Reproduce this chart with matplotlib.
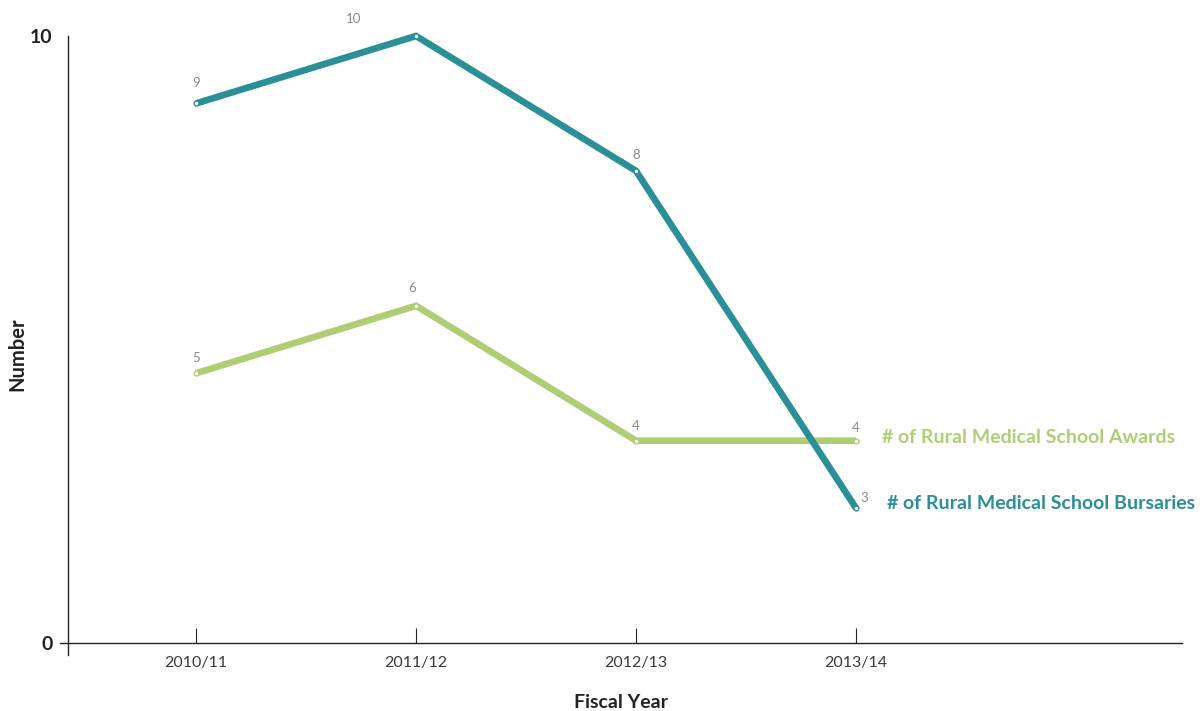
import matplotlib
matplotlib.use("Agg")
import matplotlib.pyplot as plt
from matplotlib.lines import Line2D

plt.rcParams['font.family'] = ['Lato', 'DejaVu Sans']

years = ["2010/11", "2011/12", "2012/13", "2013/14"]
bursaries = [9, 10, 8, 3]
awards = [5, 6, 4, 4]
series_names = ["# of Rural Medical School Bursaries", "# of Rural Medical School Awards"]
y_ticks = [1, 10]
y_tick_labels = ["0", "10"]

teal = "#2A8F96"
green = "#AFCE74"

fig = plt.figure(figsize=(12.02, 7.11), dpi=100)
ax = fig.add_axes([68/1202, 1-643/711, (1182-68)/1202, (643-36)/711])

x = list(range(len(years)))
for vals, col in [(awards, green), (bursaries, teal)]:
    ax.plot(x, vals, color=col, lw=4.8, solid_capstyle='butt', solid_joinstyle='miter', zorder=3,
            marker='o', ms=3.5, mfc='white', mec=col, mew=1.0, clip_on=False)

# data labels (offsets in points)
lab_off_b = [(0, 14.4), (-45, 12.2), (0, 11.5), (6, 7.5)]
lab_off_a = [(0, 11), (-3, 12.5), (0, 10.5), (0, 9)]
for vals, offs in [(bursaries, lab_off_b), (awards, lab_off_a)]:
    for xi, v, (dx, dy) in zip(x, vals, offs):
        ax.annotate(str(v), (xi, v), xytext=(dx, dy), textcoords='offset points',
                    ha='center', va='center', fontsize=9.5, color='#8a8a8a')

# series labels
ax.annotate(series_names[1], (3, 4), xytext=(18.5, 2), textcoords='offset points',
            ha='left', va='center', fontsize=14, fontweight='bold', color=green)
ax.annotate(series_names[0], (3, 3), xytext=(22, 3.5), textcoords='offset points',
            ha='left', va='center', fontsize=14, fontweight='bold', color=teal)

ax.set_xlim((68-196)/220, (1182-196)/220)
ax.set_ylim(1, 10)

for s in ['top', 'right', 'left', 'bottom']:
    ax.spines[s].set_visible(False)
# axis lines
ax.add_line(Line2D([0, 0], [-12/607, 1], transform=ax.transAxes, color='#222222', lw=1.0, clip_on=False))
ax.add_line(Line2D([-8/1114, 1], [0, 0], transform=ax.transAxes, color='#222222', lw=1.0, clip_on=False))

ax.set_xticks(x)
ax.set_xticklabels(years, fontsize=11.5, color='#3a3a3a')
ax.tick_params(axis='x', direction='in', length=11, width=0.8, color='#222222', pad=9)
ax.set_yticks(y_ticks)
ax.set_yticklabels(y_tick_labels, fontsize=14, fontweight='bold', color='#222222')
ax.tick_params(axis='y', length=0, pad=11)

fig.text(621/1202, 1-703/711, "Fiscal Year", fontsize=14, fontweight='bold', color='#222222',
         ha='center', va='center')
fig.text(17/1202, 1-354/711, "Number", fontsize=14.5, fontweight='bold', color='#222222',
         ha='center', va='center', rotation=90)

fig.savefig("out.png", dpi=100)
